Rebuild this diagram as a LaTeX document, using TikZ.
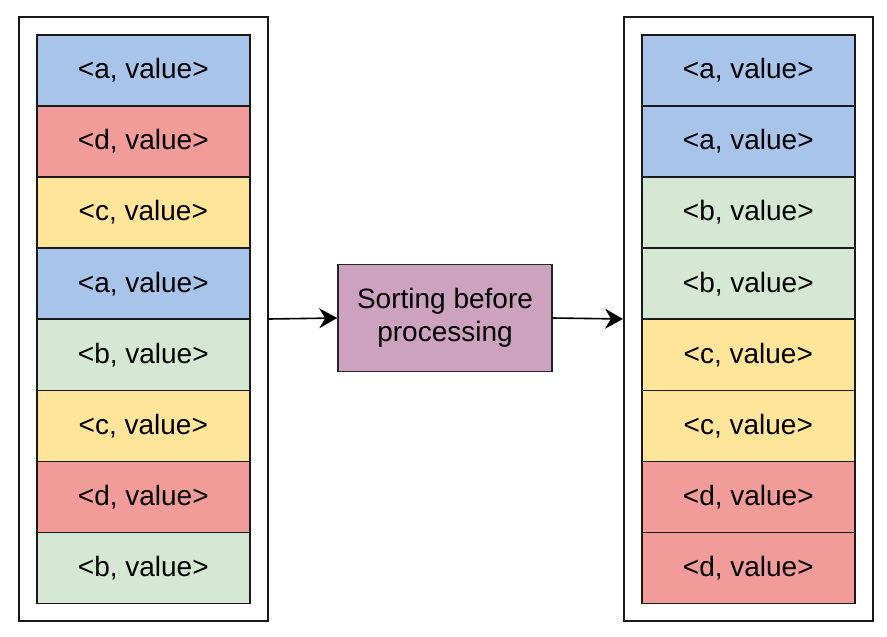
\documentclass[tikz,border=0pt]{standalone}
\usepackage{fontspec}
\setmainfont{Liberation Sans}
\usetikzlibrary{positioning,arrows.meta}
\definecolor{cellblue}{HTML}{A9C4EB}
\definecolor{cellred}{HTML}{F19C99}
\definecolor{cellyellow}{HTML}{FFE599}
\definecolor{cellgreen}{HTML}{D5E8D4}
\definecolor{sortpurple}{HTML}{CDA2BE}
\tikzset{
  outerbox/.style={draw=black!90, line width=2pt, minimum width=249pt, minimum height=604pt, inner sep=0pt, anchor=north west},
  cellbox/.style={draw=black!90, line width=1.6pt, minimum width=213pt, minimum height=71.1pt, inner sep=0pt, anchor=north west, font=\fontsize{28}{33}\selectfont},
  sortbox/.style={draw=black!85, line width=1.6pt, fill=sortpurple, minimum width=214pt, minimum height=107pt, inner sep=0pt, align=center, font=\fontsize{28}{33}\selectfont},
  sortarrow/.style={line width=1.6pt, -{Stealth[length=18pt,width=20pt,inset=6pt]}}
}
\begin{document}
\begin{tikzpicture}[x=1pt,y=1pt]
  \useasboundingbox (0,0) rectangle (887,-637);
  \def\cellH{71.1}
  % the two stacks
  \node[outerbox] (leftbox) at (18,-16) {};
  \node[outerbox] (rightbox) at (623,-16) {};
  \foreach \lbl/\col [count=\i from 0] in {a/cellblue,d/cellred,c/cellyellow,a/cellblue,b/cellgreen,c/cellyellow,d/cellred,b/cellgreen}
    \node[cellbox, fill=\col] (L\i) at (36,-34-\i*\cellH) {<\lbl, value>};
  \foreach \lbl/\col [count=\i from 0] in {a/cellblue,a/cellblue,b/cellgreen,b/cellgreen,c/cellyellow,c/cellyellow,d/cellred,d/cellred}
    \node[cellbox, fill=\col] (R\i) at (641,-34-\i*\cellH) {<\lbl, value>};
  % sorting step
  \node[sortbox] (sort) at (445,-318) {Sorting before\\processing};
  \draw[sortarrow] (leftbox.east) -- (sort.west);
  \draw[sortarrow] (sort.east) -- (rightbox.west);
\end{tikzpicture}
\end{document}
